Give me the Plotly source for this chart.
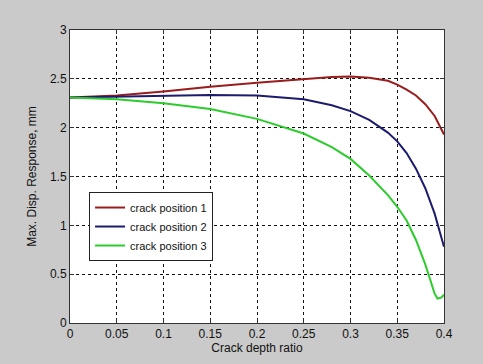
import plotly.graph_objects as go

x_red = [0, 0.025, 0.05, 0.1, 0.15, 0.2, 0.25, 0.28, 0.3, 0.32, 0.34, 0.35, 0.36, 0.37, 0.38, 0.39, 0.4]
y_red = [2.31, 2.32, 2.33, 2.37, 2.42, 2.46, 2.50, 2.52, 2.525, 2.51, 2.48, 2.44, 2.39, 2.33, 2.24, 2.12, 1.93]

x_blue = [0, 0.05, 0.1, 0.15, 0.2, 0.25, 0.28, 0.3, 0.32, 0.34, 0.35, 0.36, 0.37, 0.38, 0.39, 0.4]
y_blue = [2.31, 2.32, 2.33, 2.335, 2.33, 2.29, 2.23, 2.17, 2.08, 1.95, 1.86, 1.74, 1.58, 1.38, 1.12, 0.78]

x_green = [0, 0.05, 0.1, 0.15, 0.2, 0.25, 0.28, 0.3, 0.32, 0.34, 0.35, 0.36, 0.37, 0.38, 0.385, 0.39, 0.393, 0.397, 0.4]
y_green = [2.31, 2.29, 2.25, 2.19, 2.09, 1.94, 1.80, 1.68, 1.51, 1.31, 1.19, 1.05, 0.85, 0.60, 0.45, 0.30, 0.25, 0.26, 0.29]

names = ["crack position 1", "crack position 2", "crack position 3"]
colors = ["#9a1c1c", "#1c1c6e", "#2ccc2c"]

fig = go.Figure()
for xs, ys, n, c in [(x_red, y_red, names[0], colors[0]),
                     (x_blue, y_blue, names[1], colors[1]),
                     (x_green, y_green, names[2], colors[2])]:
    fig.add_trace(go.Scatter(x=xs, y=ys, name=n, mode="lines",
                             line=dict(color=c, width=2)))

FAM = "Liberation Sans, Arial, sans-serif"
axis_common = dict(showgrid=True, gridcolor="#111", griddash="dot", gridwidth=1,
                   showline=True, linecolor="#333", linewidth=1, mirror="ticks",
                   ticks="inside", ticklen=4, tickcolor="#333", zeroline=False,
                   tickfont=dict(family=FAM, size=12, color="#111"))

fig.update_layout(
    width=483, height=364,
    margin=dict(l=70, r=39, t=30, b=39),
    paper_bgcolor="#cacaca", plot_bgcolor="white",
    font=dict(family=FAM, size=12, color="#111"),
    showlegend=True,
    legend=dict(x=0.051, y=0.447, xanchor="left", yanchor="top",
                bgcolor="white", bordercolor="#222", borderwidth=1,
                font=dict(family=FAM, size=11, color="#111"),
                tracegroupgap=0, itemwidth=30),
    xaxis=dict(range=[0, 0.4], tickvals=[0, 0.05, 0.1, 0.15, 0.2, 0.25, 0.3, 0.35, 0.4],
               ticktext=["0", "0.05", "0.1", "0.15", "0.2", "0.25", "0.3", "0.35", "0.4"],
               title=dict(text="Crack depth ratio", standoff=2,
                          font=dict(family=FAM, size=12, color="#111")),
               **axis_common),
    yaxis=dict(range=[0, 3], tickvals=[0, 0.5, 1, 1.5, 2, 2.5, 3],
               ticktext=["0", "0.5", "1", "1.5", "2", "2.5", "3"],
               title=dict(text="Max. Disp. Response, mm", standoff=10,
                          font=dict(family=FAM, size=12, color="#111")),
               **axis_common),
)

fig.write_html("out.html")
